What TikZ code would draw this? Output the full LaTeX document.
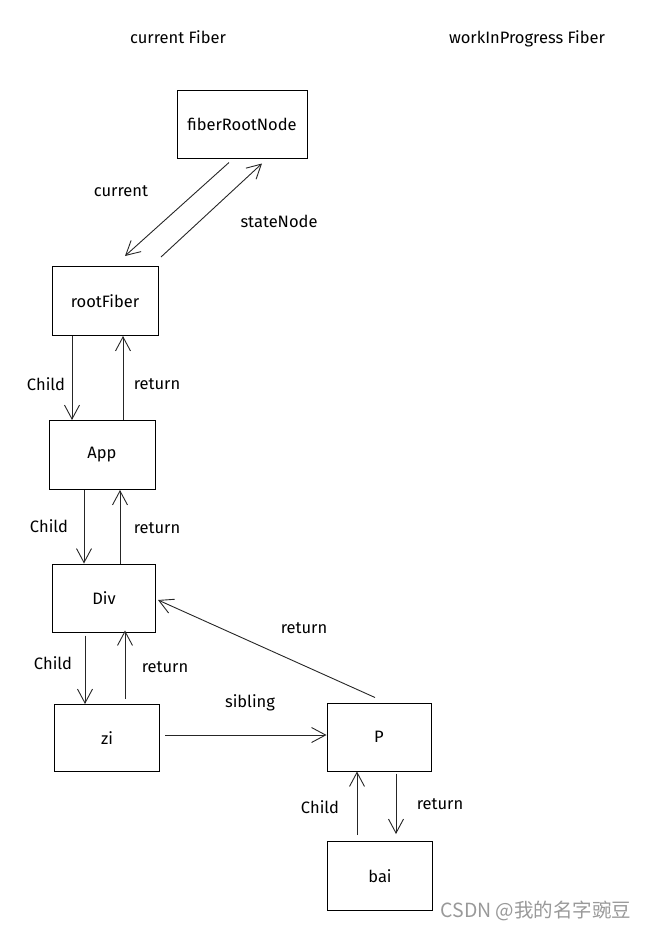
\documentclass[tikz,border=0pt]{standalone}
\usepackage{fontspec}
\setmainfont{Fira Sans}
\newfontfamily\cjk{Noto Sans CJK SC}
\usetikzlibrary{arrows.meta}

\begin{document}
\begin{tikzpicture}[x=1pt,y=-1pt,>={Straight Barb[length=14pt,width=15pt]},
  fibre/.style={draw,line width=1pt,minimum width=104pt,minimum height=68pt,inner sep=0pt,font=\fontsize{16.5}{18}\selectfont},
  lien/.style={->,line width=.9pt,draw=black!85},
  txt/.style={font=\fontsize{16.5}{18}\selectfont}]
\useasboundingbox (0,0) rectangle (647,930);

% les deux titres
\node [txt] (tcur) at (178,37) {current Fiber};
\node [txt] (twip) at (527,39) {workInProgress Fiber};

% les noeuds
\node [fibre,minimum width=130pt] (frn) at (242,124) {fiberRootNode};
\node [fibre,minimum width=106pt,minimum height=69pt] (root) at (105,301) {rootFiber};
\node [fibre,minimum width=106pt,minimum height=69pt] (app) at (102,455) {App};
\node [fibre,minimum width=103pt] (div) at (104,598) {Div};
\node [fibre,minimum width=105pt,minimum height=67pt] (zi) at (107,738) {zi};
\node [fibre] (p) at (379,737) {P};
\node [fibre,minimum width=105pt,minimum height=69pt] (bai) at (380,876) {bai};

% fiberRootNode <-> rootFiber
\draw [lien] ([xshift=-13pt,yshift=-4pt]frn.south) -- ([xshift=20pt,yshift=10pt]root.north);
\node [txt] (lcur) at (121,191) {current};
\draw [lien] ([xshift=56pt,yshift=9pt]root.north) -- ([xshift=20pt,yshift=-5pt]frn.south);
\node [txt] (lsta) at (279,221) {stateNode};

% rootFiber <-> App
\draw [lien] ([xshift=-33pt]root.south) -- ([xshift=-30pt]app.north);
\node [txt] (l1) at (46,384) {Child};
\draw [lien] ([xshift=21pt]app.north) -- ([xshift=18pt]root.south);
\node [txt] (l2) at (157,384) {return};

% App <-> Div
\draw [lien] ([xshift=-18pt]app.south) -- ([xshift=-20pt]div.north);
\node [txt] (l3) at (49,526) {Child};
\draw [lien] ([xshift=16pt]div.north) -- ([xshift=18pt]app.south);
\node [txt] (l4) at (157,528) {return};

% Div <-> zi
\draw [lien] ([xshift=-19pt,yshift=-3pt]div.south) -- ([xshift=-22pt]zi.north);
\node [txt] (l5) at (53,663) {Child};
\draw [lien] ([xshift=18pt,yshift=5pt]zi.north) -- ([xshift=21pt,yshift=2pt]div.south);
\node [txt] (l6) at (165,667) {return};

% zi -> P et P -> Div
\draw [lien] ([xshift=5pt,yshift=3pt]zi.east) -- ([yshift=2pt]p.west);
\node [txt] (l7) at (250,703) {sibling};
\draw [lien] ([xshift=-4pt,yshift=5pt]p.north) -- ([xshift=2pt,yshift=-2pt]div.east);
\node [txt] (l8) at (304,628) {return};

% bai <-> P
\draw [lien] ([xshift=-23pt,yshift=6pt]bai.north) -- ([xshift=-22pt]p.south);
\node [txt] (l9) at (320,807) {Child};
\draw [lien] ([xshift=17pt,yshift=-2pt]p.south) -- ([xshift=16pt,yshift=7pt]bai.north);
\node [txt] (l10) at (440,804) {return};

% filigrane
\node [color=black!40,font=\cjk\fontsize{19.5}{21}\selectfont] (wm) at (536,911) {CSDN @我的名字豌豆};
\end{tikzpicture}
\end{document}
